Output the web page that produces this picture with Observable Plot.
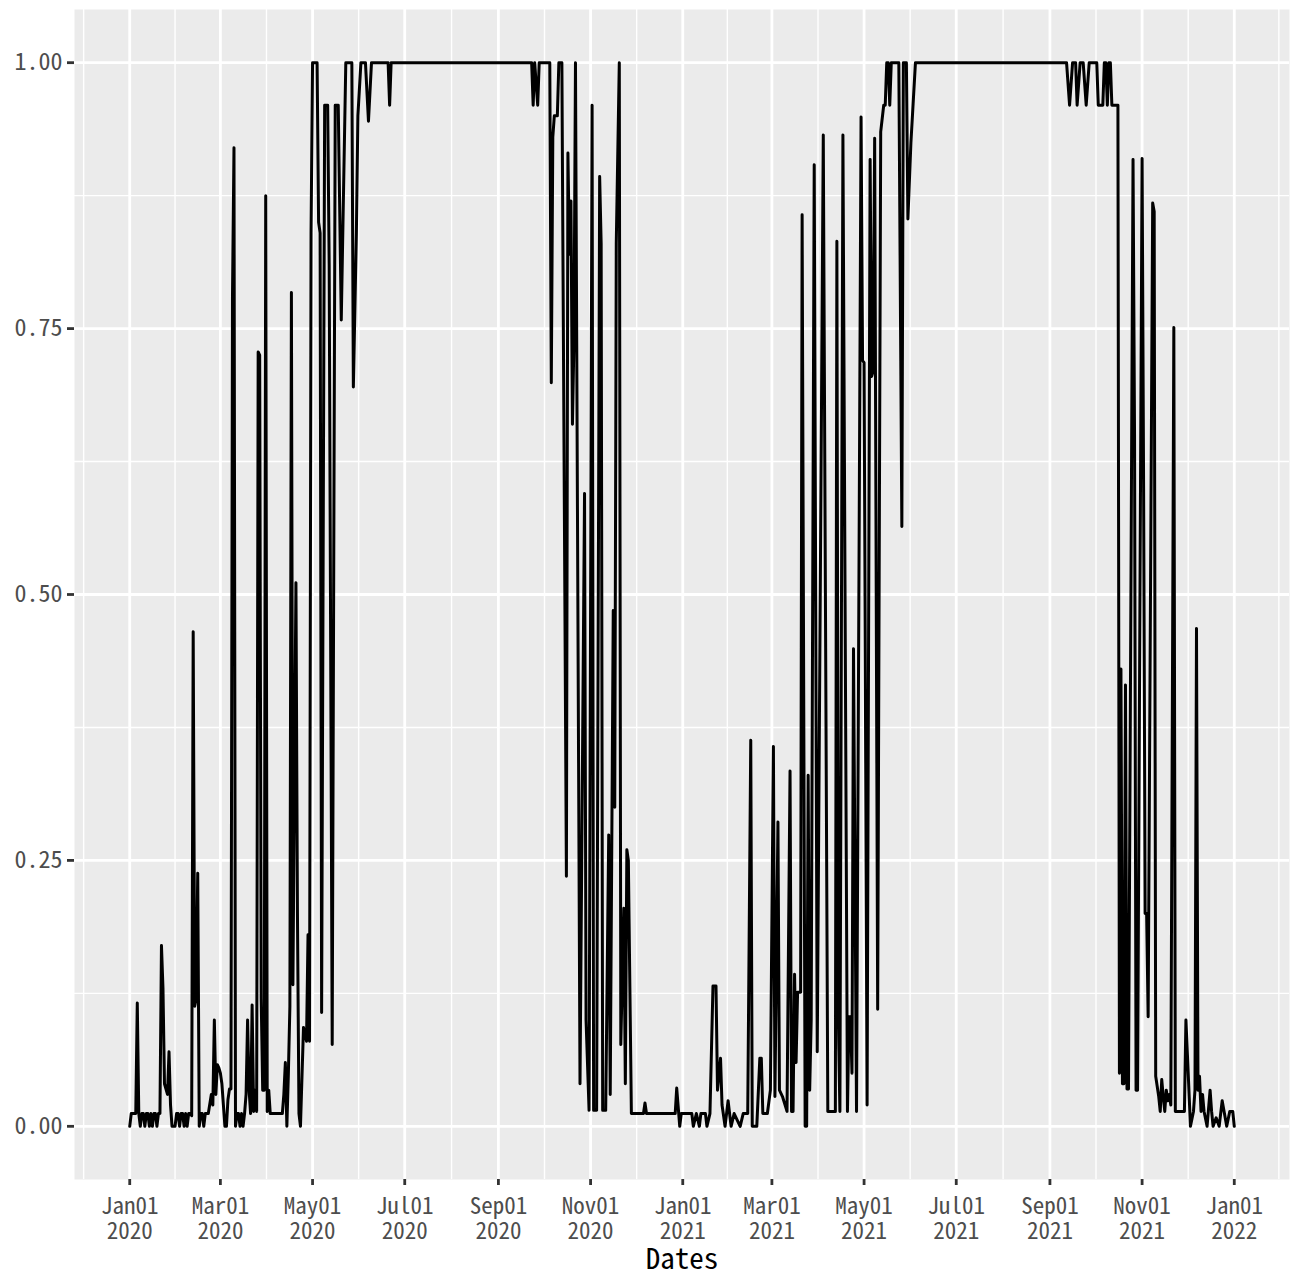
<!DOCTYPE html>
<html>
<head>
<meta charset="utf-8">
<script src="https://cdn.jsdelivr.net/npm/d3@7"></script>
<script src="https://cdn.jsdelivr.net/npm/@observablehq/plot@0.6"></script>
<style>
  html, body { margin: 0; padding: 0; background: #ffffff; }
  #chart svg { display: block; }
</style>
</head>
<body>
<div id="chart"></div>
<script>
// Daily share, stored as [days since origin, value] vertices of the series.
const origin = "2020-01-01";

const spring2020 = [
  [0,0],[1,0.012],[4,0.012],[5,0.116],[6,0.012],[7,0],[8,0.012],[9,0.012],[10,0],[11,0.012],
  [12,0.012],[13,0],[14,0.012],[15,0],[16,0.012],[17,0.012],[18,0],[19,0.012],[20,0.012],[21,0.17],
  [22,0.13],[23,0.04],[24,0.035],[25,0.03],[26,0.07],[27,0.02],[28,0],[30,0],[31,0.012],[32,0.012],
  [33,0],[34,0.012],[35,0.012],[36,0],[37,0.012],[38,0],[39,0.012],[40,0.012],[41,0.01],[42,0.465],
  [43,0.113],[44,0.12],[45,0.238],[46,0],[47,0.012],[48,0.012],[49,0],[50,0.012],[52,0.012],[54,0.03],
  [55,0.02],[56,0.1],[57,0.03],[58,0.058],[59,0.055],[60,0.05],[61,0.04],[62,0.02],[63,0],[64,0],
  [65,0.025],[66,0.035],[67,0.035],[68,0.78],[69,0.92],[70,0],[71,0.012],[72,0.012],[73,0],[74,0.012],
  [75,0],[76,0.012],[77,0.03],[78,0.1],[79,0.034],[80,0.012],[81,0.114],[82,0.014],[83,0.034],[84,0.014],
  [85,0.728],[86,0.725],[87,0.12],[88,0.034],[89,0.034],[90,0.875],[91,0.014],[92,0.034],[93,0.012],[101,0.012],
  [102,0.03],[103,0.06],[104,0],[105,0.05],[106,0.113],[107,0.784],[108,0.133],[110,0.511],[111,0.2],[112,0.012],
  [113,0],[115,0.093],[117,0.08],[118,0.18],[119,0.08],[120,0.84],[121,1],[124,1],[125,0.85],[126,0.84],
  [127,0.107],[129,0.96],[131,0.96],[132,0.81],[134,0.077],[136,0.96],[138,0.96],[140,0.758],[143,1],[147,1],
  [148,0.695],[150,0.84],[151,0.95],[153,1],[156,1],[158,0.945],[160,1],[171,1],[172,0.96],[173,1]
];

const autumn2020 = [
  [266,1],[267,0.96],[268,1],[270,0.96],[271,1],[278,1],[279,0.699],[280,0.93],[281,0.95],[283,0.95],
  [284,1],[286,1],[289,0.235],[290,0.915],[291,0.82],[292,0.87],[293,0.66],[294,0.74],[295,1],[298,0.04],
  [301,0.595],[302,0.1],[304,0.015],[306,0.96],[307,0.015],[309,0.015],[311,0.893],[312,0.83],[313,0.015],[315,0.015],
  [317,0.274],[318,0.03],[320,0.485],[321,0.3],[322,0.83],[324,1],[325,0.077],[327,0.205],[328,0.04],[329,0.26],
  [330,0.25],[332,0.012],[340,0.012],[341,0.022],[342,0.012],[361,0.012],[362,0.036],[364,0],[365,0.012]
];

const spring2021 = [
  [372,0.012],[373,0],[375,0.012],[377,0],[378,0.012],[381,0.012],[382,0],[384,0.012],[386,0.132],[388,0.132],
  [389,0.034],[391,0.064],[392,0.02],[394,0],[396,0.024],[398,0],[400,0.012],[404,0],[406,0.012],[409,0.012],
  [411,0.363],[412,0],[415,0],[417,0.064],[418,0.064],[419,0.012],[422,0.012],[424,0.034],[426,0.357],[427,0.028],
  [429,0.286],[430,0.034],[432,0.028],[435,0.014],[437,0.334],[438,0.014],[439,0.014],[440,0.143],[441,0.06],[442,0.126],
  [444,0.126],[445,0.857],[447,0],[448,0],[449,0.33],[450,0.034],[451,0.1],[453,0.904],[455,0.07],[459,0.932],
  [462,0.014],[467,0.014],[468,0.832],[469,0.1],[470,0.014],[472,0.932],[475,0.014],[476,0.103],[477,0.103],[478,0.05],
  [479,0.449],[481,0.014],[484,0.949],[485,0.72],[486,0.718],[488,0.02],[490,0.909],[491,0.705],[492,0.71],[493,0.929],
  [495,0.11],[497,0.935],[499,0.96],[500,0.96],[501,1],[502,1],[503,0.96],[504,1],[509,1],[511,0.564],
  [512,1],[514,1],[515,0.853],[517,0.925],[520,1]
];

const autumn2021 = [
  [620,1],[622,0.96],[624,1],[626,1],[627,0.96],[629,1],[631,1],[633,0.96],[635,1],[640,1],
  [641,0.96],[644,0.96],[645,1],[646,1],[647,0.96],[648,1],[649,1],[650,0.96],[654,0.96],[655,0.05],
  [656,0.43],[657,0.04],[658,0.04],[659,0.415],[660,0.035],[661,0.035],[664,0.909],[665,0.65],[666,0.034],[667,0.034],
  [670,0.91],[671,0.6],[672,0.2],[673,0.2],[674,0.103],[677,0.868],[678,0.86],[679,0.047],[681,0.028],[682,0.014],
  [683,0.044],[684,0.028],[685,0.014],[686,0.034],[687,0.024],[688,0.03],[689,0.02],[691,0.751],[692,0.014],[698,0.014],
  [699,0.1],[700,0.067],[702,0],[704,0.014],[705,0.034],[706,0.468],[707,0.034],[708,0.047],[709,0.014],[710,0.03],
  [711,0.014],[713,0],[715,0.034],[716,0.014],[717,0],[719,0.008],[721,0],[723,0.024],[725,0.008],[726,0],
  [728,0.014],[730,0.014],[731,0]
];

const yBreaks = [0, 0.25, 0.5, 0.75, 1];
const yMinorBreaks = [0.125, 0.375, 0.625, 0.875];

// ---------------------------------------------------------------------------
const start = new Date(origin + "T00:00:00Z");
const series = [...spring2020, ...autumn2020, ...spring2021, ...autumn2021]
  .map(([day, value]) => ({date: d3.utcDay.offset(start, day), value}));

const first = series[0].date;
const last = series[series.length - 1].date;
const pad = (last - first) * 0.05;
const xDomain = [new Date(+first - pad), new Date(+last + pad)];
const yDomain = [-0.05, 1.05];

// Two-month breaks with minor lines halfway between neighbours.
const xBreaks = d3.utcMonth.every(2).range(new Date("2020-01-01T00:00:00Z"), new Date("2022-01-02T00:00:00Z"));
const xExtended = [d3.utcMonth.offset(xBreaks[0], -2), ...xBreaks, d3.utcMonth.offset(xBreaks[xBreaks.length - 1], 2)];
const xMinorBreaks = d3.pairs(xExtended, (a, b) => new Date((+a + +b) / 2))
  .filter(d => d >= xDomain[0] && d <= xDomain[1]);

const fontFamily = '"Noto Sans Mono CJK JP", "Noto Sans CJK JP", "DejaVu Sans Mono", monospace';

const chart = Plot.plot({
  width: 1293,
  height: 1274,
  marginLeft: 74,
  marginRight: 4,
  marginTop: 9,
  marginBottom: 95,
  style: {fontFamily, background: "#ffffff", overflow: "visible"},
  x: {type: "utc", domain: xDomain},
  y: {domain: yDomain},
  marks: [
    Plot.frame({fill: "#EBEBEB", stroke: "none"}),
    Plot.gridX(xMinorBreaks, {stroke: "#ffffff", strokeOpacity: 1, strokeWidth: 1.4}),
    Plot.gridY(yMinorBreaks, {stroke: "#ffffff", strokeOpacity: 1, strokeWidth: 1.4}),
    Plot.gridX(xBreaks, {stroke: "#ffffff", strokeOpacity: 1, strokeWidth: 2.8}),
    Plot.gridY(yBreaks, {stroke: "#ffffff", strokeOpacity: 1, strokeWidth: 2.8}),
    Plot.line(series, {x: "date", y: "value", stroke: "#000000", strokeWidth: 3}),
    Plot.axisX(xBreaks, {
      tickFormat: d3.utcFormat("%b%d\n%Y"),
      tickSize: 6, tickPadding: 11,
      fontSize: 23, lineHeight: 1.08,
      fill: "#4D4D4D", stroke: "#333333", strokeWidth: 2.8,
      label: null
    }),
    Plot.axisY(yBreaks, {
      tickFormat: d3.format(".2f"),
      tickSize: 7, tickPadding: 5,
      fontSize: 24,
      fill: "#4D4D4D", stroke: "#333333", strokeWidth: 2.8,
      label: null
    }),
    Plot.text(["Dates"], {frameAnchor: "bottom", dy: 89, fontSize: 29, fill: "#000000"})
  ]
});

document.getElementById("chart").append(chart);
</script>
</body>
</html>
